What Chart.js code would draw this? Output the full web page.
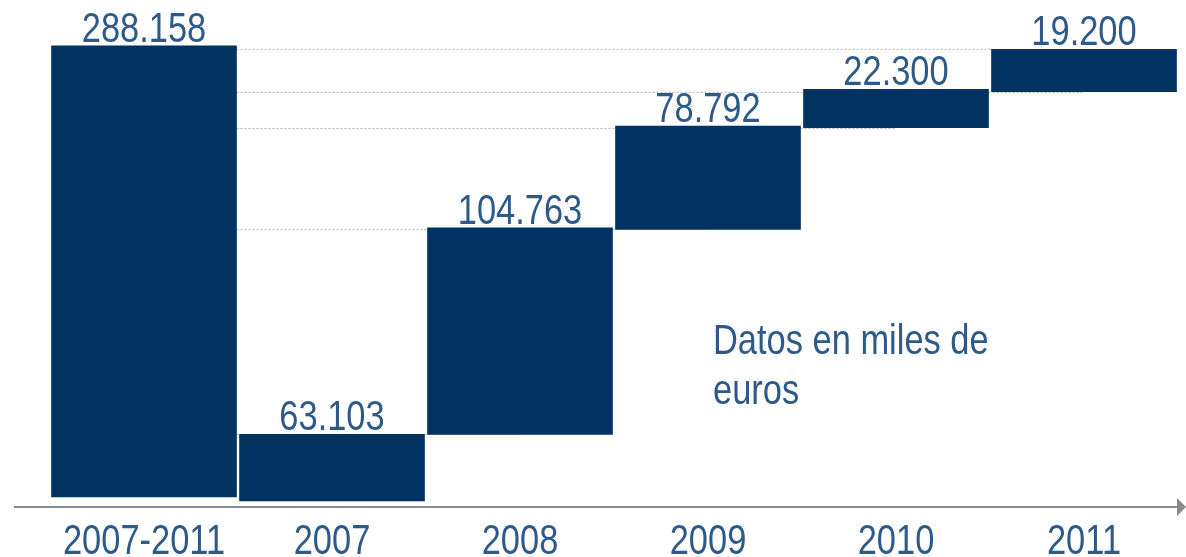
<!DOCTYPE html>
<html>
<head>
<meta charset="utf-8">
<script src="https://cdn.jsdelivr.net/npm/chart.js@4.4.1/dist/chart.umd.min.js"></script>
<style>
  html, body { margin: 0; padding: 0; background: #fff; }
  #wrap { width: 1186px; height: 557px; }
</style>
</head>
<body>
<div id="wrap"><canvas id="chart"></canvas></div>
<script>
// categories and the printed values (miles de euros)
const categories = ['2007-2011', '2007', '2008', '2009', '2010', '2011'];
const labelValues = ['288.158', '63.103', '104.763', '78.792', '22.300', '19.200'];

// bar extents as drawn in the picture (not to scale with the printed values)
const barLow  = [0,     -2.5, 40,  171, 236,   259];
const barHigh = [288.2, 40,   172, 237, 260.5, 286];

const note = ['Datos en miles de', 'euros'];

const NAVY = '#003262';
const TEXT = '#2d5a88';
const FONT = '42px "Liberation Sans", Arial, sans-serif';
const NARROW = 0.82; // no narrow face installed, so squeeze Liberation Sans

// draw text squeezed horizontally, like Arial Narrow
function narrowText(ctx, text, x, y, align) {
  ctx.save();
  ctx.translate(x, y);
  ctx.scale(NARROW, 1);
  ctx.textAlign = align;
  ctx.fillText(text, 0, 0);
  ctx.restore();
}

const waterfallExtras = {
  id: 'waterfallExtras',
  beforeDatasetsDraw(chart) {
    // dotted connector lines from the total bar to each step
    const { ctx } = chart;
    const y = chart.scales.y;
    const meta = chart.getDatasetMeta(0);
    const totalRight = meta.data[0].x + meta.data[0].width / 2;
    ctx.save();
    ctx.strokeStyle = '#b8b8b8';
    ctx.lineWidth = 1;
    ctx.setLineDash([2, 2]);
    const levels = [];
    for (let i = 2; i < categories.length; i++) levels.push([barLow[i], meta.data[i].x]);
    levels.push([barHigh[5], meta.data[5].x]);
    levels.forEach(([v, xe]) => {
      const py = Math.round(y.getPixelForValue(v)) + 0.5;
      ctx.beginPath();
      ctx.moveTo(totalRight, py);
      ctx.lineTo(xe, py);
      ctx.stroke();
    });
    ctx.restore();
  },
  afterDatasetsDraw(chart) {
    const { ctx } = chart;
    const y = chart.scales.y;
    const meta = chart.getDatasetMeta(0);
    ctx.save();
    ctx.fillStyle = TEXT;
    ctx.font = FONT;
    ctx.textBaseline = 'alphabetic';
    meta.data.forEach((bar, i) => {
      const top = y.getPixelForValue(barHigh[i]);
      narrowText(ctx, labelValues[i], bar.x, top - 4, 'center');
    });
    // note text
    narrowText(ctx, note[0], 713, 354, 'left');
    narrowText(ctx, note[1], 713, 404, 'left');
    ctx.restore();
  },
  afterDraw(chart) {
    const { ctx, chartArea } = chart;
    const x = chart.scales.x;
    const py = chartArea.bottom;
    ctx.save();
    // x axis line with arrow head
    ctx.strokeStyle = '#8a8a8a';
    ctx.fillStyle = '#8a8a8a';
    ctx.lineWidth = 2;
    ctx.beginPath();
    ctx.moveTo(14, py);
    ctx.lineTo(1178, py);
    ctx.stroke();
    ctx.beginPath();
    ctx.moveTo(1177, py - 9);
    ctx.lineTo(1186, py);
    ctx.lineTo(1177, py + 9);
    ctx.closePath();
    ctx.fill();
    // category labels under the axis
    ctx.fillStyle = TEXT;
    ctx.font = FONT;
    ctx.textBaseline = 'alphabetic';
    x.ticks.forEach((t, i) => {
      narrowText(ctx, x.getLabelForValue(t.value), x.getPixelForTick(i), py + 47, 'center');
    });
    ctx.restore();
  }
};

new Chart(document.getElementById('chart'), {
  type: 'bar',
  data: {
    labels: categories,
    datasets: [{
      data: categories.map((c, i) => [barLow[i], barHigh[i]]),
      backgroundColor: NAVY,
      borderWidth: 0,
      barThickness: 185
    }]
  },
  options: {
    responsive: true,
    maintainAspectRatio: false,
    animation: false,
    layout: { padding: { left: 50, right: 8, top: 0, bottom: 0 } },
    plugins: {
      legend: { display: false },
      tooltip: { enabled: false }
    },
    scales: {
      x: {
        grid: { display: false, drawTicks: false },
        border: { display: false },
        ticks: { display: false, autoSkip: false },
        afterFit: (s) => { s.height = 50; }
      },
      y: {
        display: false,
        min: -6.4,
        max: 317.5
      }
    }
  },
  plugins: [waterfallExtras]
});
</script>
</body>
</html>
